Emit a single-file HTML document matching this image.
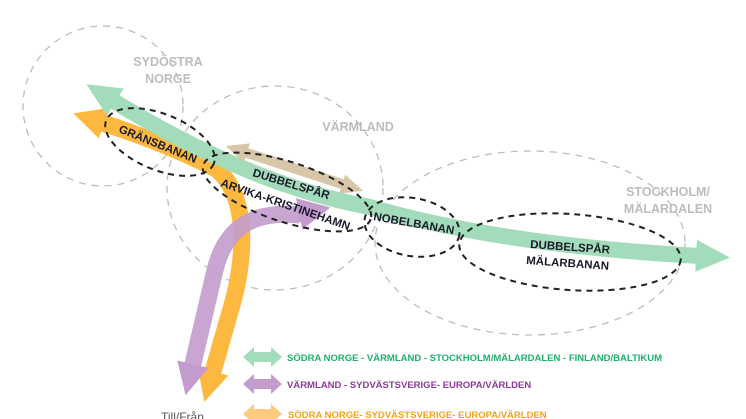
<!DOCTYPE html>
<html><head><style>
html,body{margin:0;padding:0;background:#fff;}
svg{display:block;font-family:"Liberation Sans","DejaVu Sans",sans-serif;}
</style></head><body>
<svg width="746" height="419" viewBox="0 0 746 419">
<defs>
<marker id="mg" markerUnits="userSpaceOnUse" markerWidth="40" markerHeight="40" refX="4" refY="20" orient="auto-start-reverse"><path d="M0,4 L34,20 L0,36 Z" fill="#a3dcba"/></marker>
<marker id="mo" markerUnits="userSpaceOnUse" markerWidth="40" markerHeight="40" refX="4" refY="20" orient="auto-start-reverse"><path d="M0,4 L32,20 L0,36 Z" fill="#fdb93f"/></marker>
<marker id="mp" markerUnits="userSpaceOnUse" markerWidth="40" markerHeight="40" refX="4" refY="20" orient="auto-start-reverse"><path d="M0,4 L32,20 L0,36 Z" fill="#c39ccd"/></marker>
<marker id="mt" markerUnits="userSpaceOnUse" markerWidth="30" markerHeight="30" refX="3" refY="15" orient="auto-start-reverse"><path d="M0,5 L22,15 L0,25 Z" fill="#d8c6a8"/></marker>
</defs>
<g fill="none" stroke="#bdbdbd" stroke-width="1.3" stroke-dasharray="7,6">
<circle cx="103" cy="106" r="80"/>
<ellipse cx="275" cy="188" rx="108" ry="102"/>
<ellipse cx="530" cy="243" rx="155" ry="92"/>
</g>
<g fill="#bdbdbd" font-weight="bold" font-size="12.5" text-anchor="middle">
<text x="168" y="66">SYDÖSTRA</text><text x="168" y="83">NORGE</text>
<text x="358" y="131">VÄRMLAND</text>
<text x="668" y="196">STOCKHOLM/</text><text x="668" y="213">MÄLARDALEN</text>
</g>
<!-- arrows -->
<path d="M215,168 C250,195 245,260 232,305 L212,375" fill="none" stroke="#fdb93f" stroke-width="17" marker-end="url(#mo)"/>
<path d="M218,170 C180,150 140,135 100,122" fill="none" stroke="#fdb93f" stroke-width="17" marker-end="url(#mo)"/>
<path d="M300,215 C250,210 225,230 215,270 L192,368" fill="none" stroke="#c39ccd" stroke-width="17" stroke-opacity="0.9" marker-end="url(#mp)"/>
<path d="M298,214 L303,213" fill="none" stroke="#c39ccd" stroke-width="17" marker-end="url(#mp)"/>
<path d="M112,100 Q250,185 370,207 Q500,245 700,256" fill="none" stroke="#a3dcba" stroke-width="16" marker-start="url(#mg)" marker-end="url(#mg)"/>
<path d="M244,152 L345,185" fill="none" stroke="#d8c6a8" stroke-width="10" marker-start="url(#mt)" marker-end="url(#mt)"/>
<g fill="none" stroke="#222" stroke-width="2" stroke-dasharray="6,5">
<ellipse cx="160" cy="142" rx="58" ry="28" transform="rotate(22 160 142)"/>
<ellipse cx="287" cy="192" rx="88" ry="30" transform="rotate(18 287 192)"/>
<ellipse cx="412" cy="227" rx="48" ry="29" transform="rotate(10 412 227)"/>
<ellipse cx="570" cy="252" rx="111" ry="38" transform="rotate(4 570 252)"/>
</g>
<g fill="#1a1a2a" font-weight="bold" font-size="11.5">
<text transform="translate(118,132) rotate(22)">GRÄNSBANAN</text>
<text transform="translate(252,176) rotate(17)">DUBBELSPÅR</text>
<text transform="translate(220,186) rotate(19)">ARVIKA-KRISTINEHAMN</text>
<text transform="translate(373,220) rotate(10)">NOBELBANAN</text>
<text transform="translate(530,248) rotate(4)">DUBBELSPÅR</text>
<text transform="translate(526,264) rotate(4)">MÄLARBANAN</text>
</g>
<!-- legend -->
<path d="M243,357 L254,347 L254,352 L271,352 L271,347 L282,357 L271,367 L271,362 L254,362 L254,367 Z" fill="#a3dcba"/>
<path d="M243,384 L254,374 L254,379 L271,379 L271,374 L282,384 L271,394 L271,389 L254,389 L254,394 Z" fill="#c39ccd"/>
<path d="M243,414 L254,404 L254,409 L271,409 L271,404 L282,414 L271,424 L271,419 L254,419 L254,424 Z" fill="#fdca80"/>
<g font-weight="bold" font-size="9.5">
<text x="287" y="361" fill="#1db16a">SÖDRA NORGE - VÄRMLAND - STOCKHOLM/MÄLARDALEN - FINLAND/BALTIKUM</text>
<text x="287" y="388" fill="#8e3a9a">VÄRMLAND - SYDVÄSTSVERIGE- EUROPA/VÄRLDEN</text>
<text x="288" y="418" fill="#f6a21a">SÖDRA NORGE- SYDVÄSTSVERIGE- EUROPA/VÄRLDEN</text>
</g>
<text x="161" y="421" fill="#555" font-size="12">Till/Från</text>
</svg>
</body></html>
